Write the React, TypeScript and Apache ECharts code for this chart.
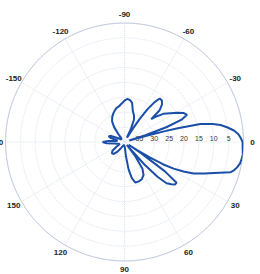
import React, { useEffect, useRef } from 'react';
import * as echarts from 'echarts';

// Pattern angles (degrees, -180..180) and attenuation (dB, 0 = outer ring, 40 = centre)
const angles = [
  -180, -176, -172, -168, -164, -160, -156, -150, -140, -131, -128, -125, -121, -116, -111,
  -107, -103, -99, -95, -92, -89, -86, -82, -79, -75, -70, -67, -64, -62, -60, -58, -56.5,
  -55, -53, -51, -48, -45, -42, -40.5, -39, -36, -32, -29, -26, -23.5, -21.5, -19.5, -18, -17,
  -16, -15, -14.5, -13.3, -11.5, -10, -8, -6, -4, -2.3, 0, 3.4, 6, 8.2, 10.5, 12.7, 14.5, 16,
  19, 21.5, 24.5, 26.6, 28.4, 30, 31.5, 32.5, 33.5, 34, 36, 38, 40, 42, 44.5, 46.5, 48.5, 50,
  51, 53, 56, 60, 65, 70, 75, 78.5, 81.5, 84, 86.5, 92, 100, 110, 120, 126, 132, 138, 144,
  150, 158, 166, 172, 176, 180,
];
const attenuation = [
  32.6, 34.6, 37.3, 37.6, 35.3, 34.3, 35, 37.3, 38.7, 38.3, 36.6, 33.9, 31.9, 30.6, 29.6,
  28.9, 28.2, 27.9, 27.2, 26.6, 25.9, 25.5, 25.9, 26.6, 29.2, 30.6, 31.9, 35, 38, 38.3, 35, 30.6,
  26.6, 23.2, 21.2, 21.2, 22.2, 24.2, 28.2, 26.6, 23.9, 21.8, 19.8, 17.8, 17.1, 19.2, 24.9, 32.6, 38.3,
  32.6, 25.9, 21.5, 13.8, 9.7, 7.2, 5.0, 3.0, 1.7, 1.0, 0.3, 0.2, 0, 0.2, 0.5, 1.2, 2.0, 3.0,
  8.1, 11.1, 14.5, 17.8, 21.2, 24.9, 29.9, 35, 38.3, 33.3, 23.2, 17.8, 17.8, 18.8, 20.2, 23.9, 29.9, 36.6,
  38.7, 33.9, 29.2, 27.2, 26.2, 25.9, 25.9, 27.6, 30.6, 35, 38.3, 38.7, 39, 38.7, 37.6, 36, 34.6, 34.3, 35,
  37, 38.3, 38.3, 36.6, 34, 32.6,
];

// Angle tick values (axis units) and their printed labels
const angleTicks = [0, 30, 60, 90, 120, 150, 180, 210, 240, 270, 300, 330];
const angleTickLabels = ['0', '30', '60', '90', '120', '150', '180', '-150', '-120', '-90', '-60', '-30'];

export default function App() {
  const ref = useRef<HTMLDivElement>(null);
  useEffect(() => {
    const chart = echarts.init(ref.current as HTMLDivElement, null, { renderer: 'svg' });
    const data = angles.map((a, i) => [attenuation[i], a < 0 ? a + 360 : a]);
    chart.setOption({
      animation: false,
      backgroundColor: '#ffffff',
      polar: { center: [124.5, 142], radius: 119 },
      angleAxis: {
        type: 'value',
        min: 0,
        max: 360,
        interval: 30,
        startAngle: 0,
        clockwise: true,
        axisLine: { lineStyle: { color: '#c3cbe0', width: 1 } },
        axisTick: { show: false },
        axisLabel: { show: false },
        splitLine: { show: true, lineStyle: { color: '#dce2f0', type: 'dotted', width: 1 } },
      },
      radiusAxis: {
        type: 'value',
        min: 0,
        max: 40,
        interval: 5,
        inverse: true,
        axisLine: { show: false },
        axisTick: { show: false },
        axisLabel: {
          formatter: (v: number) => (v === 0 || v === 40 ? '' : String(v)),
          fontSize: 7,
          color: '#333333',
          margin: 0,
          fontFamily: 'Liberation Sans, Arial, sans-serif',
        },
        splitLine: { show: true, lineStyle: { color: '#dce2f0', type: 'dotted', width: 1 } },
      },
      series: [
        {
          type: 'line',
          coordinateSystem: 'polar',
          data,
          symbol: 'none',
          lineStyle: { color: '#1b4ea6', width: 2 },
        },
      ],
    });
    // angle labels centred just outside the outer ring (MATLAB style)
    const labelRadiusValue = -3;
    const graphics = angleTicks.map((t, i) => {
      const p = chart.convertToPixel({ polarIndex: 0 } as any, [labelRadiusValue, t]) as number[];
      return {
        type: 'text',
        x: p[0],
        y: p[1],
        style: {
          text: angleTickLabels[i],
          align: 'center',
          verticalAlign: 'middle',
          fill: '#222222',
          font: 'bold 8px "Liberation Sans", Arial, sans-serif',
        },
      };
    });
    chart.setOption({ graphic: graphics });
    return () => chart.dispose();
  }, []);
  return <div ref={ref} style={{ position: 'fixed', left: 0, top: 0, width: 260, height: 274 }} />;
}
